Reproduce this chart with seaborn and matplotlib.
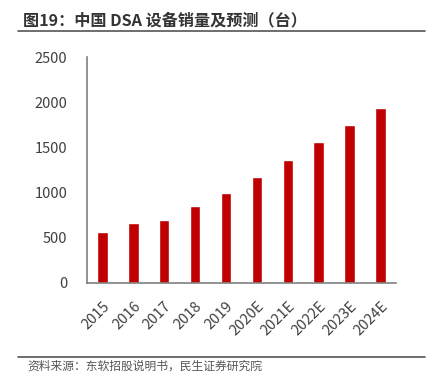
import matplotlib
matplotlib.use("Agg")
import matplotlib.pyplot as plt
import seaborn as sns
import pandas as pd

# data
years = ['2015', '2016', '2017', '2018', '2019', '2020E', '2021E', '2022E', '2023E', '2024E']
sales = [560, 660, 700, 850, 1000, 1170, 1360, 1560, 1750, 1935]
title = '图19：中国 DSA 设备销量及预测（台）'
source = '资料来源：东软招股说明书，民生证券研究院'

sns.set_style('white')
plt.rcParams['font.family'] = ['Noto Sans CJK SC', 'DejaVu Sans']

df = pd.DataFrame({'year': years, 'sales': sales})

fig = plt.figure(figsize=(4.35, 3.73), dpi=100)
ax = fig.add_axes([0.2, 0.242, 0.71, 0.604])
sns.barplot(data=df, x='year', y='sales', color='#C00000', width=0.34,
            saturation=1, ax=ax)

ax.set_ylim(0, 2500)
ax.set_yticks(range(0, 2501, 500))
ax.set_xlim(-0.5, 9.5)
ax.set_xlabel('')
ax.set_ylabel('')
for s in ['top', 'right']:
    ax.spines[s].set_visible(False)
for s in ['left', 'bottom']:
    ax.spines[s].set_color('#808080')
    ax.spines[s].set_linewidth(1.2)
ax.tick_params(axis='both', length=0, labelsize=10.5, labelcolor='#404040')
ax.tick_params(axis='y', pad=14)
ax.tick_params(axis='x', pad=12)
plt.setp(ax.get_xticklabels(), rotation=45, ha='right', rotation_mode='anchor')

# title and rule
fig.text(0.052, 0.946, title, fontsize=11.6, fontweight='bold', color='#333333',
         va='center', ha='left')
fig.add_artist(plt.Line2D([0.041, 0.977], [0.918, 0.918], color='#555555', lw=1.2))

# footer rule and source
fig.add_artist(plt.Line2D([0.041, 0.977], [0.044, 0.044], color='#555555', lw=1.2))
fig.text(0.062, 0.018, source, fontsize=8.5, color='#555555', va='center', ha='left')

fig.savefig('out.png', dpi=100)
